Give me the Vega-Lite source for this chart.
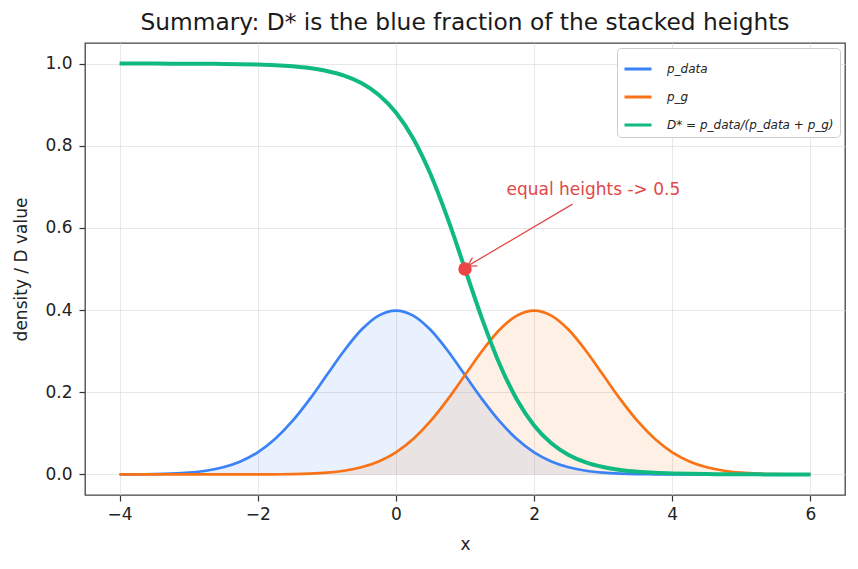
{
  "$schema": "https://vega.github.io/schema/vega-lite/v6.json",
  "width": 760,
  "height": 452,
  "autosize": {"type": "none"},
  "padding": {"left": 85, "top": 43, "right": 13, "bottom": 74},
  "background": "white",
  "title": {"text": "Summary: D* is the blue fraction of the stacked heights", "fontSize": 23.3, "fontWeight": "normal", "font": "DejaVu Sans", "color": "#1a1a1a", "offset": 8},
  "config": {
    "font": "DejaVu Sans",
    "view": {"stroke": "#444444", "strokeWidth": 1.3},
    "axis": {"labelFontSize": 17, "titleFontSize": 17, "labelColor": "#222222", "titleColor": "#222222", "tickColor": "#333333", "tickSize": 6, "tickWidth": 1.2, "domain": false, "gridColor": "#e2e2e2", "gridWidth": 0.8, "titleFontWeight": "normal"},
    "legend": {"orient": "top-right", "offset": 5, "padding": 6, "fillColor": "white", "strokeColor": "#cccccc", "cornerRadius": 4, "symbolType": "stroke", "symbolStrokeWidth": 3, "symbolSize": 729, "rowPadding": 7, "labelFontSize": 12, "labelFontStyle": "italic", "labelColor": "#222222", "labelOffset": 14, "labelLimit": 400}
  },
  "datasets": {
    "curve": [
      {"x": -4, "pdata": 0.000134, "pg": 0, "D": 0.99995},
      {"x": -3.75, "pdata": 0.000353, "pg": 0, "D": 0.99993},
      {"x": -3.5, "pdata": 0.000873, "pg": 0, "D": 0.99988},
      {"x": -3.25, "pdata": 0.002029, "pg": 0, "D": 0.9998},
      {"x": -3, "pdata": 0.004432, "pg": 0.0000015, "D": 0.99966},
      {"x": -2.75, "pdata": 0.009094, "pg": 0.000005, "D": 0.99945},
      {"x": -2.5, "pdata": 0.017528, "pg": 0.000016, "D": 0.99909},
      {"x": -2.25, "pdata": 0.03174, "pg": 0.0000477, "D": 0.9985},
      {"x": -2, "pdata": 0.053991, "pg": 0.000134, "D": 0.99753},
      {"x": -1.75, "pdata": 0.086277, "pg": 0.000353, "D": 0.99593},
      {"x": -1.5, "pdata": 0.129518, "pg": 0.000873, "D": 0.99331},
      {"x": -1.25, "pdata": 0.182649, "pg": 0.002029, "D": 0.98901},
      {"x": -1, "pdata": 0.241971, "pg": 0.004432, "D": 0.98201},
      {"x": -0.75, "pdata": 0.301137, "pg": 0.009094, "D": 0.97069},
      {"x": -0.5, "pdata": 0.352065, "pg": 0.017528, "D": 0.95257},
      {"x": -0.25, "pdata": 0.386668, "pg": 0.03174, "D": 0.92414},
      {"x": 0, "pdata": 0.398942, "pg": 0.053991, "D": 0.8808},
      {"x": 0.25, "pdata": 0.386668, "pg": 0.086277, "D": 0.81757},
      {"x": 0.5, "pdata": 0.352065, "pg": 0.129518, "D": 0.73106},
      {"x": 0.75, "pdata": 0.301137, "pg": 0.182649, "D": 0.62246},
      {"x": 1, "pdata": 0.241971, "pg": 0.241971, "D": 0.5},
      {"x": 1.25, "pdata": 0.182649, "pg": 0.301137, "D": 0.37754},
      {"x": 1.5, "pdata": 0.129518, "pg": 0.352065, "D": 0.26894},
      {"x": 1.75, "pdata": 0.086277, "pg": 0.386668, "D": 0.18243},
      {"x": 2, "pdata": 0.053991, "pg": 0.398942, "D": 0.1192},
      {"x": 2.25, "pdata": 0.03174, "pg": 0.386668, "D": 0.07586},
      {"x": 2.5, "pdata": 0.017528, "pg": 0.352065, "D": 0.04743},
      {"x": 2.75, "pdata": 0.009094, "pg": 0.301137, "D": 0.02931},
      {"x": 3, "pdata": 0.004432, "pg": 0.241971, "D": 0.01799},
      {"x": 3.25, "pdata": 0.002029, "pg": 0.182649, "D": 0.01099},
      {"x": 3.5, "pdata": 0.000873, "pg": 0.129518, "D": 0.00669},
      {"x": 3.75, "pdata": 0.000353, "pg": 0.086277, "D": 0.00407},
      {"x": 4, "pdata": 0.000134, "pg": 0.053991, "D": 0.00247},
      {"x": 4.25, "pdata": 0.0000477, "pg": 0.03174, "D": 0.0015},
      {"x": 4.5, "pdata": 0.000016, "pg": 0.017528, "D": 0.00091},
      {"x": 4.75, "pdata": 0.000005, "pg": 0.009094, "D": 0.00055},
      {"x": 5, "pdata": 0.0000015, "pg": 0.004432, "D": 0.00034},
      {"x": 5.25, "pdata": 0, "pg": 0.002029, "D": 0.0002},
      {"x": 5.5, "pdata": 0, "pg": 0.000873, "D": 0.00012},
      {"x": 5.75, "pdata": 0, "pg": 0.000353, "D": 0.00007},
      {"x": 6, "pdata": 0, "pg": 0.000134, "D": 0.00005}
    ],
    "marker": [{"x": 1, "y": 0.5}],
    "arrow": [{"x": 2.556, "y": 0.658, "x2": 1.036, "y2": 0.507}],
    "note": [{"x": 1.6, "y": 0.692, "label": "equal heights -> 0.5"}]
  },
  "layer": [
    {
      "data": {"name": "curve"},
      "mark": {"type": "area", "color": "#3b82f6", "opacity": 0.11, "interpolate": "monotone"},
      "encoding": {
        "x": {"field": "x", "type": "quantitative", "scale": {"domain": [-4.5, 6.5], "nice": false, "zero": false}, "axis": {"values": [-4, -2, 0, 2, 4, 6], "format": "d", "title": "x", "labelPadding": 5, "titlePadding": 14}},
        "y": {"field": "pdata", "type": "quantitative", "scale": {"domain": [-0.05, 1.05], "nice": false, "zero": false}, "axis": {"values": [0, 0.2, 0.4, 0.6, 0.8, 1.0], "format": ".1f", "title": "density / D value", "labelPadding": 7, "titlePadding": 14}},
        "y2": {"datum": 0}
      }
    },
    {
      "data": {"name": "curve"},
      "mark": {"type": "area", "color": "#f97316", "opacity": 0.11, "interpolate": "monotone"},
      "encoding": {
        "x": {"field": "x", "type": "quantitative"},
        "y": {"field": "pg", "type": "quantitative"},
        "y2": {"datum": 0}
      }
    },
    {
      "mark": {"type": "rule", "color": "#777777", "strokeDash": [4, 3], "strokeWidth": 1.1},
      "encoding": {"y": {"datum": 0.5}}
    },
    {
      "data": {"name": "curve"},
      "transform": [{"fold": ["pdata", "pg", "D"], "as": ["series", "val"]}],
      "mark": {"type": "line", "interpolate": "monotone"},
      "encoding": {
        "x": {"field": "x", "type": "quantitative"},
        "y": {"field": "val", "type": "quantitative"},
        "color": {"field": "series", "type": "nominal", "scale": {"domain": ["pdata", "pg", "D"], "range": ["#3b82f6", "#f97316", "#10b981"]}, "legend": {"title": null, "labelExpr": "datum.value == 'pdata' ? 'p_data' : datum.value == 'pg' ? 'p_g' : 'D* = p_data/(p_data + p_g)'"}},
        "strokeWidth": {"condition": {"test": "datum.series == 'D'", "value": 4}, "value": 2.7}
      }
    },
    {
      "data": {"name": "marker"},
      "mark": {"type": "point", "filled": true, "color": "#ef4444", "opacity": 1, "size": 180},
      "encoding": {"x": {"field": "x", "type": "quantitative"}, "y": {"field": "y", "type": "quantitative"}}
    },
    {
      "data": {"name": "arrow"},
      "mark": {"type": "rule", "color": "#e24a4a", "strokeWidth": 1.3},
      "encoding": {"x": {"field": "x", "type": "quantitative"}, "y": {"field": "y", "type": "quantitative"}, "x2": {"field": "x2"}, "y2": {"field": "y2"}}
    },
    {
      "data": {"name": "arrow"},
      "mark": {"type": "point", "shape": "M-0.55,1 L0,0 L0.55,1", "filled": false, "stroke": "#e24a4a", "strokeWidth": 1.3, "size": 300, "angle": 239.5, "opacity": 1},
      "encoding": {"x": {"field": "x2", "type": "quantitative"}, "y": {"field": "y2", "type": "quantitative"}}
    },
    {
      "data": {"name": "note"},
      "mark": {"type": "text", "align": "left", "baseline": "middle", "color": "#e04848", "fontSize": 17, "font": "DejaVu Sans"},
      "encoding": {"x": {"field": "x", "type": "quantitative"}, "y": {"field": "y", "type": "quantitative"}, "text": {"field": "label"}}
    }
  ]
}
